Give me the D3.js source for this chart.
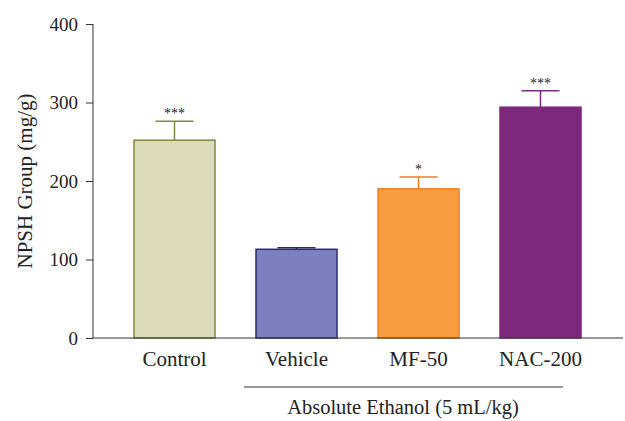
<!DOCTYPE html>
<html>
<head>
<meta charset="utf-8">
<script src="https://cdn.jsdelivr.net/npm/d3@7"></script>
<style>
  body { margin: 0; background: #fff; }
  text { font-family: "Liberation Serif", "DejaVu Serif", serif; fill: #222; }
</style>
</head>
<body>
<svg id="chart" width="625" height="421"></svg>
<script>
// data
const groups = ["Control", "Vehicle", "MF-50", "NAC-200"];
const means = [252, 113, 190, 294];
const errors = [24, 2, 15, 21];
const stars = ["***", "", "*", "***"];
const yTicks = [0, 100, 200, 300, 400];
const fills = ["#dcdcbc", "#7d7fbe", "#f79d40", "#7d287c"];
const strokes = ["#85873a", "#2b2c6b", "#f27d20", "#7d287c"];

const serif = "'Liberation Serif', 'DejaVu Serif', serif";

let svg = d3.select("#chart");

let x = d3.scaleBand()
    .domain(groups)
    .range([93, 622])
    .paddingInner(0.336)
    .paddingOuter(0.336);

let y = d3.scaleLinear()
    .domain([0, 400])
    .range([338, 24]);

// y axis
let yAxis = svg.append("g")
    .attr("transform", "translate(93,0)")
    .call(d3.axisLeft(y).tickValues(yTicks).tickSize(7).tickPadding(8))
    .attr("font-family", serif);
yAxis.select(".domain").attr("stroke", "#333").attr("d", "M0," + y(0) + "V" + y(400));
yAxis.selectAll(".tick line").attr("stroke", "#333");
yAxis.selectAll(".tick text")
    .style("font-size", "19px")
    .attr("fill", "#222");

// bars
let bars = svg.append("g").selectAll("g.bar")
    .data(groups)
    .enter().append("g")
    .attr("class", "bar");

bars.append("line")
    .attr("x1", d => x(d) + x.bandwidth() / 2)
    .attr("x2", d => x(d) + x.bandwidth() / 2)
    .attr("y1", (d, i) => y(means[i]))
    .attr("y2", (d, i) => y(means[i] + errors[i]))
    .attr("stroke", (d, i) => strokes[i])
    .attr("stroke-width", 1.5);

bars.append("line")
    .attr("x1", d => x(d) + x.bandwidth() / 2 - 19)
    .attr("x2", d => x(d) + x.bandwidth() / 2 + 19)
    .attr("y1", (d, i) => y(means[i] + errors[i]))
    .attr("y2", (d, i) => y(means[i] + errors[i]))
    .attr("stroke", (d, i) => strokes[i])
    .attr("stroke-width", 1.5);

bars.append("rect")
    .attr("x", d => x(d))
    .attr("width", x.bandwidth())
    .attr("y", (d, i) => y(means[i]))
    .attr("height", (d, i) => y(0) - y(means[i]))
    .attr("fill", (d, i) => fills[i])
    .attr("stroke", (d, i) => strokes[i])
    .attr("stroke-width", 1.5);

bars.append("text")
    .attr("x", d => x(d) + x.bandwidth() / 2)
    .attr("y", (d, i) => y(means[i] + errors[i]) - 3)
    .attr("text-anchor", "middle")
    .style("font-size", "14px")
    .text((d, i) => stars[i]);

// x axis
let xAxis = svg.append("g")
    .attr("transform", "translate(0," + y(0) + ")")
    .call(d3.axisBottom(x).tickSize(0).tickPadding(13))
    .attr("font-family", serif);
xAxis.select(".domain").attr("stroke", "#333").attr("d", "M93,0H623");
xAxis.selectAll(".tick text")
    .style("font-size", "21px")
    .attr("fill", "#222");

// bracket under the ethanol groups
svg.append("line")
    .attr("x1", 244).attr("x2", 563)
    .attr("y1", 387).attr("y2", 387)
    .attr("stroke", "#333");

svg.append("text")
    .attr("x", 403)
    .attr("y", 414)
    .attr("text-anchor", "middle")
    .style("font-size", "20.5px")
    .text("Absolute Ethanol (5 mL/kg)");

svg.append("text")
    .attr("transform", "translate(32,181) rotate(-90)")
    .attr("text-anchor", "middle")
    .style("font-size", "21px")
    .text("NPSH Group (mg/g)");
</script>
</body>
</html>
